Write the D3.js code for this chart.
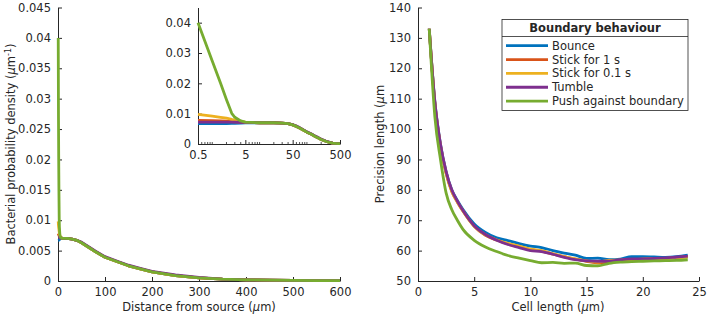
<!DOCTYPE html>
<html><head><meta charset="utf-8">
<script src="https://cdn.jsdelivr.net/npm/d3@7"></script>
<style>
html,body{margin:0;padding:0;background:#fff;}
svg text{font-family:"DejaVu Sans",sans-serif;fill:#262626;}
</style></head>
<body><svg id="c" width="709" height="316"></svg>
<script>
// ---------- data ----------
const seriesNames = ["Bounce","Stick for 1 s","Stick for 0.1 s","Tumble","Push against boundary"];
const colors = ["#0072BD","#D95319","#EDB120","#7E2F8E","#77AC30"];

const distX = [0.5,1,1.5,2,2.58,3,4,5,7,10,15,20,30,40,50,60,70,80,100,125,150,175,200,250,300,350,400,450,500,550,600];
const densBounce = [0.0067,0.0067,0.0067,0.0067,0.0068,0.0068,0.0069,0.0070,0.0070,0.0070,0.0070,0.0070,0.0069,0.0067,0.0063,0.0058,0.0053,0.0048,0.0039,0.0032,0.0025,0.0020,0.0015,0.0009,0.0005,0.0003,0.0002,0.00013,0.0001,0.00007,0.00005];
const densStick1 = [0.0078,0.0077,0.0076,0.0075,0.0074,0.0073,0.0072,0.0071,0.0071,0.0070,0.0070,0.0070,0.0069,0.0067,0.0063,0.0058,0.0053,0.0048,0.0039,0.0032,0.0025,0.0020,0.0015,0.0009,0.0005,0.0003,0.0002,0.00013,0.0001,0.00007,0.00005];
const densStick01 = [0.0098,0.0092,0.0088,0.0085,0.0081,0.0079,0.0075,0.0072,0.0071,0.0070,0.0070,0.0070,0.0069,0.0067,0.0063,0.0058,0.0053,0.0048,0.0039,0.0032,0.0025,0.0020,0.0015,0.0009,0.0005,0.0003,0.0002,0.00013,0.0001,0.00007,0.00005];
const densTumble = [0.0072,0.0072,0.0072,0.0072,0.0072,0.0072,0.0071,0.0071,0.0071,0.0070,0.0070,0.0070,0.0069,0.0067,0.0064,0.0059,0.0054,0.0049,0.0040,0.0033,0.0026,0.0021,0.0016,0.0010,0.0006,0.0003,0.0002,0.00013,0.0001,0.00007,0.00005];
const densPush = [0.0400,0.0274,0.0200,0.0146,0.0101,0.0088,0.0076,0.0072,0.0071,0.0070,0.0070,0.0070,0.0069,0.0067,0.0063,0.0058,0.0053,0.0048,0.0039,0.0032,0.0025,0.0020,0.0015,0.0009,0.0005,0.0003,0.0002,0.00013,0.0001,0.00007,0.00005];

const cellX = [1,1.5,2,2.5,3,3.5,4,5,6,7,8,9,10,11,12,13,14,15,16,17,18,19,20,21,22,23,24];
const precBounce = [133,109,95,86,80,76.5,73.5,68.8,66,64.2,63.3,62.3,61.5,61,60,59.2,58.5,57.4,57.5,57,57.2,58,58,57.9,57.8,58,58.5];
const precStick1 = [133,108.5,94.5,85.5,79.5,76,73,68,65,63.5,62.2,61.3,60.3,59.8,58.8,58,57.2,56.5,55.9,56.2,56.8,57,57.2,57.3,57.4,57.7,58.1];
const precStick01 = [133,108.5,94.5,85.5,79.5,76,73,68,65.2,63.5,62.4,61.5,60.5,60,59,58,57.3,56.6,56.2,56.8,56.9,57,57.2,57.3,57.4,57.6,57.9];
const precTumble = [133,109,95,86,80,76.3,73.2,68.2,65.3,63.4,62,61,60,59.7,58.8,57.8,57,56.6,56.5,56.5,57,57.3,57.3,57.4,57.6,57.9,58.2];
const precPush = [133,104,90,79,73.5,70,67,63.4,61.2,59.7,58.4,57.5,56.7,56,56.1,55.8,55.9,55.1,55,55.8,56.2,56.4,56.5,56.6,56.7,56.8,57];

const densTicksY = [0,0.005,0.01,0.015,0.02,0.025,0.03,0.035,0.04,0.045];
const distTicks = [0,100,200,300,400,500,600];
const insetTicksX = [0.5,5,50,500];
const insetTicksY = [0,0.01,0.02,0.03,0.04];
const precTicksY = [50,60,70,80,90,100,110,120,130,140];
const cellTicks = [0,5,10,15,20,25];

const densSeries = [densBounce,densStick1,densStick01,densTumble,densPush];
const precSeries = [precBounce,precStick1,precStick01,precTumble,precPush];

// ---------- drawing ----------
const svg = d3.select("#c");
const axisCol = "#262626";
const FS = 11.5;
const LW = 2.8;

function styleAxis(g){
  g.selectAll("path.domain").attr("stroke",axisCol).attr("stroke-width",1);
  g.selectAll(".tick line").attr("stroke",axisCol);
  g.selectAll(".tick text").attr("font-size",FS).attr("fill",axisCol).attr("font-family","DejaVu Sans");
}
const fmt = d => String(+d.toFixed(6));

// left main
const xL = d3.scaleLinear().domain([0,600]).range([58,340]);
const yL = d3.scaleLinear().domain([0,0.045]).range([281,7.5]);
const gxL = svg.append("g").attr("transform","translate(0,281)")
  .call(d3.axisBottom(xL).tickValues(distTicks).tickSize(-4).tickPadding(7).tickSizeOuter(0).tickFormat(fmt));
styleAxis(gxL);
const gyL = svg.append("g").attr("transform","translate(58,0)")
  .call(d3.axisLeft(yL).tickValues(densTicksY).tickSize(-4).tickPadding(7).tickSizeOuter(0).tickFormat(fmt));
styleAxis(gyL);

const lineL = d3.line().x((d,i)=>xL(distX[i])).y(d=>yL(d));
densSeries.forEach((s,k)=>{
  svg.append("path").attr("d",lineL(s)).attr("fill","none").attr("stroke",colors[k])
    .attr("stroke-width",LW).attr("stroke-linejoin","round");
});

// inset
const xI = d3.scaleLog().domain([0.5,500]).range([198,340]);
const yI = d3.scaleLinear().domain([0,0.045]).range([144,7.5]);
const minor = [];
[0.1,1,10,100].forEach(dec=>{for(let m=1;m<10;m++){const v=m*dec; if(v>0.5&&v<500&&insetTicksX.indexOf(v)<0) minor.push(v);}});
svg.append("g").selectAll("line").data(minor).enter().append("line")
  .attr("x1",d=>xI(d)).attr("x2",d=>xI(d)).attr("y1",144).attr("y2",142)
  .attr("stroke",axisCol).attr("stroke-width",0.8);
const gxI = svg.append("g").attr("transform","translate(0,144)")
  .call(d3.axisBottom(xI).tickValues(insetTicksX).tickSize(-4).tickPadding(7).tickSizeOuter(0).tickFormat(fmt));
styleAxis(gxI);
const gyI = svg.append("g").attr("transform","translate(198,0)")
  .call(d3.axisLeft(yI).tickValues(insetTicksY).tickSize(-4).tickPadding(7).tickSizeOuter(0).tickFormat(fmt));
styleAxis(gyI);
const lineI = d3.line().x((d,i)=>xI(distX[i])).y(d=>yI(d));
densSeries.forEach((s,k)=>{
  svg.append("path").attr("d",lineI(s.filter((d,i)=>distX[i]<=500))).attr("fill","none").attr("stroke",colors[k])
    .attr("stroke-width",LW).attr("stroke-linejoin","round");
});

// right
const xR = d3.scaleLinear().domain([0,25]).range([418,699]);
const yR = d3.scaleLinear().domain([50,140]).range([281,7.5]);
const gxR = svg.append("g").attr("transform","translate(0,281)")
  .call(d3.axisBottom(xR).tickValues(cellTicks).tickSize(-4).tickPadding(7).tickSizeOuter(0).tickFormat(fmt));
styleAxis(gxR);
const gyR = svg.append("g").attr("transform","translate(418,0)")
  .call(d3.axisLeft(yR).tickValues(precTicksY).tickSize(-4).tickPadding(7).tickSizeOuter(0).tickFormat(fmt));
styleAxis(gyR);
const lineR = d3.line().x((d,i)=>xR(cellX[i])).y(d=>yR(d)).curve(d3.curveMonotoneX);
precSeries.forEach((s,k)=>{
  svg.append("path").attr("d",lineR(s)).attr("fill","none").attr("stroke",colors[k])
    .attr("stroke-width",LW).attr("stroke-linejoin","round");
});

// axis labels
function mu(t){ t.append("tspan").attr("font-style","italic").text("\u03bc"); }
const xl1 = svg.append("text").attr("x",199).attr("y",311).attr("text-anchor","middle").attr("font-size",FS);
xl1.append("tspan").text("Distance from source (");mu(xl1);xl1.append("tspan").text("m)");
const xl2 = svg.append("text").attr("x",558).attr("y",311).attr("text-anchor","middle").attr("font-size",FS);
xl2.append("tspan").text("Cell length (");mu(xl2);xl2.append("tspan").text("m)");
const yl1 = svg.append("text").attr("transform","translate(15,144) rotate(-90)").attr("text-anchor","middle").attr("font-size",FS);
yl1.append("tspan").text("Bacterial probability density (");mu(yl1);yl1.append("tspan").text("m");
yl1.append("tspan").attr("dy",-4).attr("font-size",8).text("-1");
yl1.append("tspan").attr("dy",4).text(")");
const yl2 = svg.append("text").attr("transform","translate(384,144) rotate(-90)").attr("text-anchor","middle").attr("font-size",FS);
yl2.append("tspan").text("Precision length (");mu(yl2);yl2.append("tspan").text("m");

// legend
const lg = svg.append("g");
lg.append("rect").attr("x",502).attr("y",19.5).attr("width",186).attr("height",91)
  .attr("fill","#fff").attr("stroke",axisCol).attr("stroke-width",0.8);
lg.append("line").attr("x1",502).attr("x2",688).attr("y1",36.5).attr("y2",36.5).attr("stroke",axisCol).attr("stroke-width",0.8);
lg.append("text").attr("x",595).attr("y",32).attr("text-anchor","middle").attr("font-size",FS).attr("font-weight","bold").text("Boundary behaviour");
seriesNames.forEach((n,k)=>{
  const y = 45.7 + k*13.85;
  lg.append("line").attr("x1",506).attr("x2",548).attr("y1",y).attr("y2",y).attr("stroke",colors[k]).attr("stroke-width",LW);
  lg.append("text").attr("x",552).attr("y",y+4).attr("font-size",FS).text(n);
});
</script></body></html>
